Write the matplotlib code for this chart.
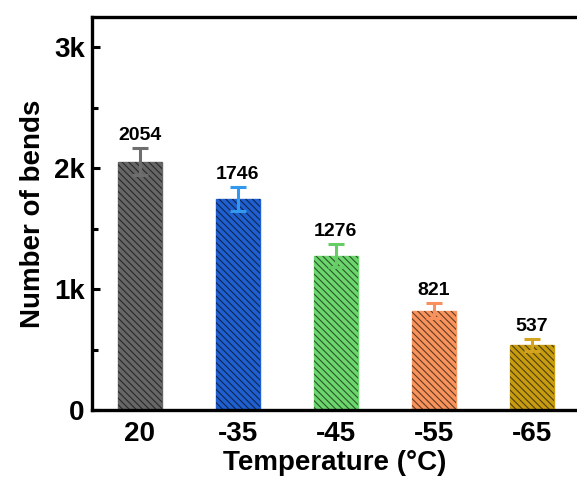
import matplotlib
matplotlib.use("Agg")
import matplotlib.pyplot as plt
from matplotlib.ticker import FixedLocator, MultipleLocator

plt.rcParams["font.family"] = ["Liberation Sans", "DejaVu Sans"]
plt.rcParams["font.weight"] = "bold"
plt.rcParams["hatch.linewidth"] = 0.8

temps = ["20", "-35", "-45", "-55", "-65"]
bends = [2054, 1746, 1276, 821, 537]
errors = [110, 100, 96, 63, 50]
face_colors = ["#666666", "#1f5fcf", "#6bd66b", "#f8935c", "#c89c10"]
err_colors = ["#6e6e6e", "#3399ee", "#66cc66", "#f8905c", "#d4a420"]

fig = plt.figure(figsize=(5.77, 4.82), dpi=100)
ax = fig.add_axes([0.159, 0.149, 0.841, 0.816])

x = list(range(len(temps)))
for i in x:
    ax.bar(i, bends[i], width=0.45, color=face_colors[i], edgecolor=face_colors[i],
           linewidth=1, zorder=2)
    ax.bar(i, bends[i], width=0.45, color="none", edgecolor=(0, 0, 0, 0.6),
           hatch="\\\\\\\\\\", linewidth=0, zorder=2.5)
    ax.errorbar(i, bends[i], yerr=errors[i], fmt="none", ecolor=err_colors[i],
                elinewidth=2.2, capsize=6, capthick=2.2, zorder=3)
    ax.annotate(str(bends[i]), (i, bends[i] + errors[i]), xytext=(0, 3),
                textcoords="offset points", ha="center", va="bottom",
                fontsize=14, fontweight="bold")

ax.set_xlim(-0.49, 4.46)
ax.set_ylim(0, 3250)
ax.set_xticks(x)
ax.set_xticklabels(temps)
ax.yaxis.set_major_locator(FixedLocator([0, 1000, 2000, 3000]))
ax.set_yticklabels(["0", "1k", "2k", "3k"])
ax.yaxis.set_minor_locator(MultipleLocator(500))

ax.tick_params(axis="y", which="major", direction="in", length=6, width=2.2,
               labelsize=20, pad=5)
ax.tick_params(axis="y", which="minor", direction="in", length=4, width=2.2)
ax.tick_params(axis="x", which="both", length=0, labelsize=20, pad=8)
for lbl in ax.get_xticklabels() + ax.get_yticklabels():
    lbl.set_fontweight("bold")

for s in ["left", "bottom", "top"]:
    ax.spines[s].set_linewidth(2.4)
ax.spines["right"].set_visible(False)

ax.set_xlabel("Temperature (°C)", fontsize=20, fontweight="bold", labelpad=2)
ax.set_ylabel("Number of bends", fontsize=20, fontweight="bold", labelpad=6)

fig.savefig("out.png", dpi=100)
